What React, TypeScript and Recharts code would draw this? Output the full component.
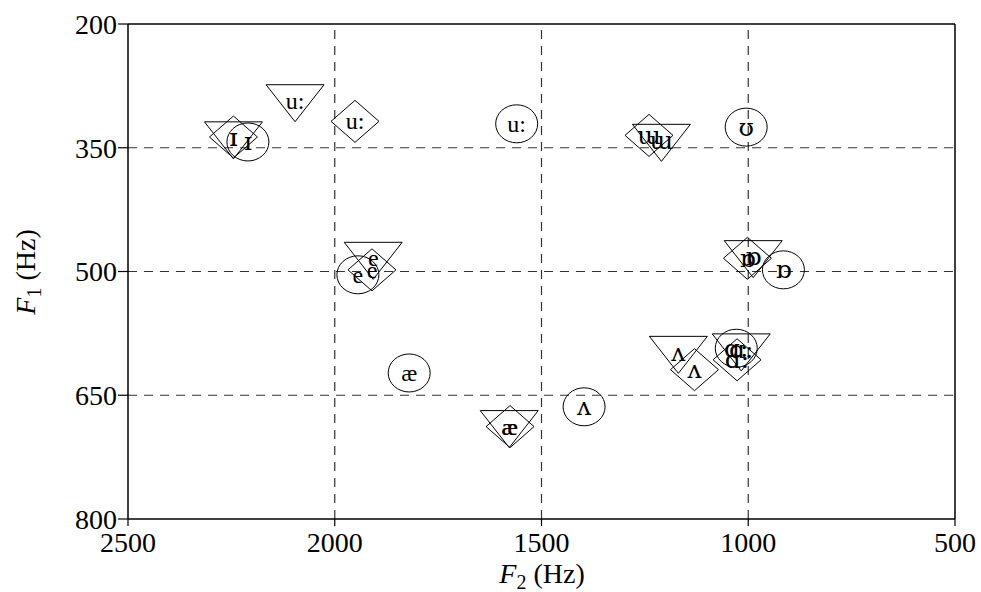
import { ScatterChart, Scatter, XAxis, YAxis, ReferenceLine } from 'recharts';

// vowel labels per marker series
const circleVowels = ['ɪ', 'e', 'æ', 'u:', 'ʊ', 'ɒ', 'ɑ:', 'ʌ'];
const circleF2 = [2210, 1944, 1820, 1560, 1005, 915, 1029, 1397];
const circleF1 = [343, 504, 623, 321, 325, 498, 593, 664];

const diamondVowels = ['ɪ', 'e', 'æ', 'u:', 'ɯ', 'ɒ', 'ɑ:', 'ʌ'];
const diamondF2 = [2245, 1910, 1576, 1951, 1240, 1002, 1027, 1130];
const diamondF1 = [337, 498, 688, 318, 335, 484, 607, 619];

const triangleVowels = ['ɪ', 'e', 'æ', 'u:', 'ɯ', 'ɒ', 'ɑ:', 'ʌ'];
const triangleF2 = [2245, 1907, 1578, 2096, 1210, 988, 1017, 1169];
const triangleF1 = [338, 484, 688, 293, 341, 482, 595, 598];

const f2Ticks = [500, 1000, 1500, 2000, 2500];
const f1Ticks = [200, 350, 500, 650, 800];
const f2Grid = [1000, 1500, 2000];
const f1Grid = [350, 500, 650];

const FONT = '"Liberation Serif", "Times New Roman", serif';
// the IPA-only symbols look heavier in the reference, DejaVu Serif is closer
const IPA_FONT = '"DejaVu Serif", "Liberation Serif", serif';

const build = (labels: string[], f2: number[], f1: number[]) =>
  labels.map((label, i) => ({ x: f2[i], y: f1[i], label }));

const circles = build(circleVowels, circleF2, circleF1);
const diamonds = build(diamondVowels, diamondF2, diamondF1);
const triangles = build(triangleVowels, triangleF2, triangleF1);

const isIpa = (s: string) => /[\u0250-\u02af]/.test(s);

const Vowel = ({ cx, cy, text }: { cx: number; cy: number; text: string }) => {
  const ipa = isIpa(text);
  return (
    <text x={cx} y={cy} textAnchor="middle" dominantBaseline="central"
      fontFamily={ipa ? IPA_FONT : FONT} fontSize={ipa ? 25 : 24} fill="#000">
      {text}
    </text>
  );
};

const CircleMark = (props: any) => {
  const { cx, cy, payload } = props;
  return (
    <g>
      <ellipse cx={cx} cy={cy} rx={21} ry={19} fill="none" stroke="#000" strokeWidth={1} />
      <Vowel cx={cx} cy={cy} text={payload.label} />
    </g>
  );
};

const DiamondMark = (props: any) => {
  const { cx, cy, payload } = props;
  const pts = `${cx},${cy - 21} ${cx + 24},${cy} ${cx},${cy + 21} ${cx - 24},${cy}`;
  return (
    <g>
      <polygon points={pts} fill="none" stroke="#000" strokeWidth={1} />
      <Vowel cx={cx} cy={cy} text={payload.label} />
    </g>
  );
};

const TriangleMark = (props: any) => {
  const { cx, cy, payload } = props;
  const pts = `${cx - 29},${cy - 16} ${cx + 29},${cy - 16} ${cx},${cy + 21}`;
  return (
    <g>
      <polygon points={pts} fill="none" stroke="#000" strokeWidth={1} />
      <Vowel cx={cx} cy={cy} text={payload.label} />
    </g>
  );
};

const tickStyle = { fontFamily: FONT, fontSize: 28, fill: '#000' };

export default function App() {
  return (
    <div style={{ position: 'absolute', left: 0, top: 0, background: '#fff' }}>
      <ScatterChart width={981} height={592} margin={{ top: 24, right: 26, bottom: 0, left: 0 }}>
        <XAxis
          type="number"
          dataKey="x"
          domain={[500, 2500]}
          ticks={f2Ticks}
          reversed
          height={73}
          tickSize={7}
          tickMargin={6}
          tick={tickStyle}
          axisLine={{ stroke: '#000', strokeWidth: 1.5 }}
          tickLine={{ stroke: '#000', strokeWidth: 1.2 }}
          label={{
            content: () => (
              <text x={542} y={583} textAnchor="middle" fontFamily={FONT} fontSize={28} fill="#000">
                <tspan fontStyle="italic">F</tspan>
                <tspan fontSize={20} dy={6}>2</tspan>
                <tspan dy={-6}> (Hz)</tspan>
              </text>
            ),
          }}
        />
        <YAxis
          type="number"
          dataKey="y"
          domain={[200, 800]}
          ticks={f1Ticks}
          reversed
          width={128}
          tickSize={10}
          tickMargin={1}
          tick={tickStyle}
          axisLine={{ stroke: '#000', strokeWidth: 1.5 }}
          tickLine={{ stroke: '#000', strokeWidth: 1.2 }}
          label={{
            content: () => (
              <text x={0} y={0} transform="translate(35,272) rotate(-90)" textAnchor="middle"
                fontFamily={FONT} fontSize={28} fill="#000">
                <tspan fontStyle="italic">F</tspan>
                <tspan fontSize={20} dy={6}>1</tspan>
                <tspan dy={-6}> (Hz)</tspan>
              </text>
            ),
          }}
        />
        {f1Grid.map((v) => (
          <ReferenceLine key={`h${v}`} y={v} stroke="#333" strokeWidth={1.2} strokeDasharray="9 7" />
        ))}
        {f2Grid.map((v) => (
          <ReferenceLine key={`v${v}`} x={v} stroke="#333" strokeWidth={1.2} strokeDasharray="9 7" />
        ))}
        <ReferenceLine y={200} stroke="#000" strokeWidth={1.5} />
        <ReferenceLine x={500} stroke="#000" strokeWidth={1.5} />
        <Scatter data={circles} shape={CircleMark} isAnimationActive={false} />
        <Scatter data={diamonds} shape={DiamondMark} isAnimationActive={false} />
        <Scatter data={triangles} shape={TriangleMark} isAnimationActive={false} />
      </ScatterChart>
    </div>
  );
}
